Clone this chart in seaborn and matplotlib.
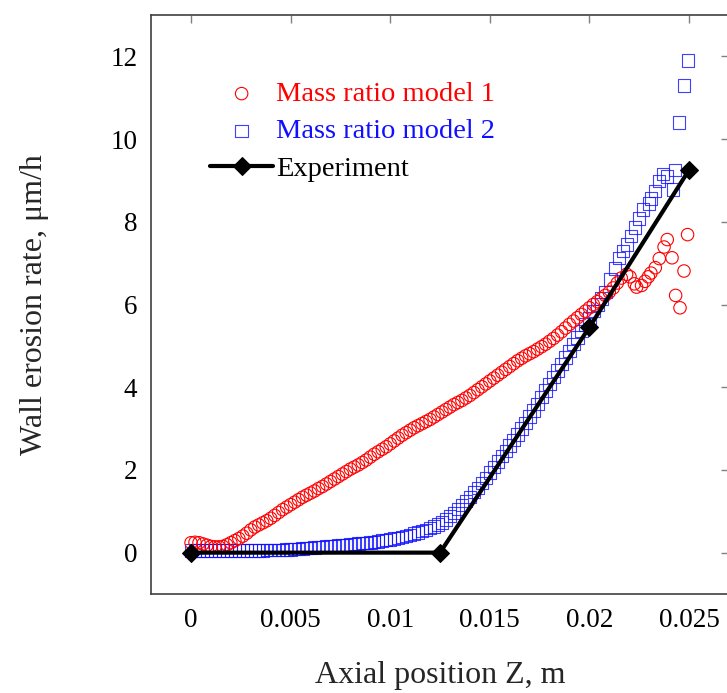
import numpy as np
import pandas as pd
import seaborn as sns
import matplotlib.pyplot as plt

# Mass ratio model 1 (red circles): regular part on a 0.0002 m grid, then the scattered tail
m1_step_y = [0.24, 0.25, 0.24, 0.21, 0.18, 0.15, 0.14, 0.14, 0.15, 0.19,
             0.24, 0.29, 0.34, 0.40, 0.47, 0.55, 0.62, 0.67, 0.72, 0.77,
             0.83, 0.90, 0.97, 1.04, 1.10, 1.16, 1.22, 1.28, 1.34, 1.39,
             1.44, 1.49, 1.55, 1.60, 1.66, 1.72, 1.78, 1.84, 1.90, 1.96,
             2.02, 2.07, 2.12, 2.18, 2.24, 2.31, 2.38, 2.44, 2.50, 2.56,
             2.63, 2.70, 2.77, 2.84, 2.90, 2.96, 3.02, 3.07, 3.12, 3.17,
             3.22, 3.28, 3.34, 3.40, 3.46, 3.52, 3.58, 3.63, 3.68, 3.74,
             3.80, 3.87, 3.94, 4.01, 4.08, 4.15, 4.22, 4.29, 4.36, 4.43,
             4.50, 4.57, 4.64, 4.70, 4.76, 4.81, 4.86, 4.92, 4.98, 5.04,
             5.11, 5.18, 5.26, 5.34, 5.43, 5.52, 5.60, 5.68, 5.76, 5.84,
             5.92, 6.00, 6.07, 6.14, 6.22, 6.30, 6.40, 6.52, 6.64]
m1_tail_x = [0.02187, 0.02204, 0.02226, 0.02237, 0.02262, 0.02279, 0.02296, 0.02309,
             0.02331, 0.02351, 0.02375, 0.02391, 0.02415, 0.02433, 0.02455, 0.02475, 0.02493]
m1_tail_y = [6.73, 6.67, 6.50, 6.42, 6.46, 6.56, 6.67, 6.76,
             6.89, 7.11, 7.39, 7.57, 7.13, 6.22, 5.92, 6.81, 7.69]

# Mass ratio model 2 (blue squares)
m2_step_y = [0.05, 0.05, 0.05, 0.05, 0.05, 0.05, 0.05, 0.05, 0.05, 0.05,
             0.05, 0.05, 0.05, 0.05, 0.05, 0.05, 0.05, 0.05, 0.05, 0.06,
             0.06, 0.06, 0.07, 0.07, 0.08, 0.08, 0.09, 0.09, 0.10, 0.11,
             0.11, 0.12, 0.13, 0.14, 0.15, 0.15, 0.16, 0.17, 0.18, 0.19,
             0.20, 0.21, 0.22, 0.23, 0.24, 0.25, 0.26, 0.27, 0.29, 0.30,
             0.32, 0.34, 0.36, 0.38, 0.40, 0.43, 0.46, 0.49, 0.52, 0.55,
             0.59, 0.63, 0.68, 0.73, 0.80, 0.88, 0.96, 1.05, 1.15, 1.25,
             1.35, 1.46, 1.57, 1.69, 1.81, 1.94, 2.07, 2.20, 2.33, 2.46,
             2.59, 2.72, 2.86, 3.00, 3.14, 3.29, 3.44, 3.60, 3.76, 3.92,
             4.08, 4.24, 4.40, 4.56, 4.72, 4.88, 5.04, 5.20, 5.36, 5.52,
             5.68, 5.84, 6.00, 6.15, 6.30]
m2_tail_x = [0.02107, 0.02129, 0.0215, 0.0217, 0.0219, 0.0221, 0.0223, 0.0225,
             0.0227, 0.0230, 0.0231, 0.0233, 0.0235, 0.0237, 0.0239, 0.0242,
             0.0243, 0.0245, 0.02475, 0.02496]
m2_tail_y = [6.60, 6.87, 7.13, 7.29, 7.45, 7.65, 7.86, 8.08,
             8.30, 8.44, 8.56, 8.75, 8.99, 9.15, 9.10, 8.78,
             9.25, 10.40, 11.30, 11.90]

# Experiment
exp_x = [0.0, 0.0125, 0.02, 0.025]
exp_y = [0.0, 0.0, 5.45, 9.25]

step = 0.0002
m1_x = list(np.round(np.arange(len(m1_step_y)) * step, 5)) + m1_tail_x
m1_y = m1_step_y + m1_tail_y
m2_x = list(np.round(np.arange(len(m2_step_y)) * step, 5)) + m2_tail_x
m2_y = m2_step_y + m2_tail_y

df1 = pd.DataFrame({"z": m1_x, "rate": m1_y})
df2 = pd.DataFrame({"z": m2_x, "rate": m2_y})
dfe = pd.DataFrame({"z": exp_x, "rate": exp_y})

sns.set_theme(style="white")
plt.rcParams["font.family"] = ["Liberation Serif", "DejaVu Serif"]

fig = plt.figure(figsize=(7.27, 6.93), dpi=100)
ax = fig.add_axes([151.2 / 727, 99 / 693, 577.6 / 727, 579 / 693])

sns.scatterplot(data=df1, x="z", y="rate", ax=ax, marker="o", s=80,
                facecolors="none", edgecolor="#ff0000", linewidth=0.8,
                label="Mass ratio model 1", zorder=3)
sns.scatterplot(data=df2, x="z", y="rate", ax=ax, marker="s", s=80,
                facecolors="none", edgecolor="#1010ff", linewidth=0.8, alpha=0.8,
                label="Mass ratio model 2", zorder=2)
sns.lineplot(data=dfe, x="z", y="rate", ax=ax, color="black", linewidth=3,
             marker="D", markersize=9.5, markeredgecolor="black", sort=False,
             label="Experiment", zorder=4)

ax.set_xlim(-0.002, 0.027)
ax.set_ylim(-1, 13)
ax.set_xticks([0, 0.005, 0.01, 0.015, 0.02, 0.025])
ax.set_xticklabels(["0", "0.005", "0.01", "0.015", "0.02", "0.025"])
ax.set_yticks([0, 2, 4, 6, 8, 10, 12])
ax.tick_params(direction="in", length=6, width=1, color="#808080",
               labelsize=19.5, top=True, right=True, pad=10, labelcolor="black")
for sp in ax.spines.values():
    sp.set_color("#404040")
    sp.set_linewidth(1.2)

ax.set_xlabel("Axial position Z, m", fontsize=23, labelpad=20)
ax.set_ylabel("Wall erosion rate, μm/h", fontsize=23, labelpad=44)

ax.legend(loc="upper left", bbox_to_anchor=(0.058, 0.93), frameon=False,
          fontsize=20.5, handlelength=2.2, handletextpad=0.1, labelspacing=0.4,
          labelcolor=["#ff0000", "#1010ff", "black"], markerscale=1.0)

fig.savefig("out.png", dpi=100)
